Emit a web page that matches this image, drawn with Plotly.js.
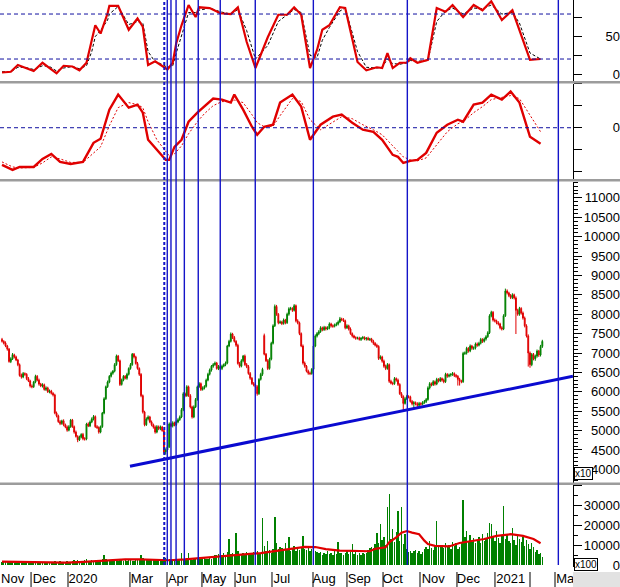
<!DOCTYPE html>
<html><head><meta charset="utf-8">
<script src="https://cdn.plot.ly/plotly-3.0.1.min.js"></script>
<style>html,body{margin:0;padding:0;background:#fff}#chart{width:620px;height:587px}</style>
</head><body><div id="chart"></div>
<script>
// ---- price (x10), one value per trading day, Nov 2019 .. Feb 2021 ----
const openP = [
7350,7300,7260,7180,7100,6780,6850,6950,6900,6820,
6700,6430,6380,6470,6450,6340,6280,6150,6130,6250,
6400,6300,6200,6150,6180,6060,6100,6000,6020,5960,
5920,5450,5380,5230,5180,5250,5150,5090,5010,5100,
5270,5100,4960,4850,4760,4830,4900,4790,4780,5170,
5120,5220,5300,5360,5100,5080,4960,5100,5450,5820,
6130,6250,6400,6480,6530,6700,6920,6800,6190,6300,
6400,6350,6450,6600,6700,6970,6900,6730,6600,6450,
5900,5480,5150,5300,5350,5220,5150,5090,4960,5100,
5050,5090,5000,4450,4500,4580,5170,5120,5200,5150,
5220,5280,5350,5540,5950,5900,6130,5900,5610,5350,
5610,5800,6130,6210,6060,6100,6140,6300,6450,6560,
6660,6700,6740,6600,6650,6600,6660,6700,6740,7180,
7300,7490,7400,7300,7200,6730,6660,6800,6920,6700,
6650,6470,6350,6210,6180,6130,5950,6320,6450,7450,
6970,6800,6600,6840,7250,7700,8200,8000,7780,7800,
7760,7850,7780,8000,8140,8150,8100,8220,7830,7780,
7500,7180,6740,6660,6530,6480,6470,6580,7180,7440,
7500,7550,7650,7600,7660,7620,7650,7750,7700,7690,
7720,7750,7800,7880,7860,7830,7650,7700,7620,7500,
7440,7400,7380,7390,7350,7380,7400,7360,7380,7350,
7360,7300,7250,7200,7170,6860,6900,6790,6660,6600,
6700,6270,6220,6210,6340,6300,6190,5950,5880,5700,
5820,5880,5870,5750,5690,5720,5690,5650,5700,5680,
5720,5750,5800,6100,6210,6180,6260,6200,6320,6280,
6340,6300,6260,6450,6400,6430,6450,6470,6420,6400,
6320,6280,6260,6990,7000,7120,7050,7180,7120,7130,
7230,7200,7250,7350,7300,7360,7420,7520,7960,8050,
7850,7830,7780,7750,7650,7620,7960,8600,8550,8480,
8430,8500,8420,8100,8000,8150,8030,7900,7700,7440,
7000,6700,6960,6850,6920,7050,6950,7170];
const highP = [
7390,7330,7300,7210,7130,6890,7000,6980,6930,6850,
6730,6470,6510,6500,6480,6380,6310,6190,6280,6440,
6430,6340,6230,6220,6210,6140,6130,6060,6050,5990,
5950,5490,5410,5270,5280,5290,5180,5130,5140,5300,
5300,5130,5000,4880,4870,4930,4940,4830,5200,5210,
5260,5340,5400,5390,5140,5110,5130,5480,5860,6160,
6290,6430,6520,6560,6740,6960,6950,6830,6340,6430,
6430,6490,6630,6740,7000,7000,6930,6770,6630,6480,
5930,5510,5340,5390,5380,5260,5180,5130,5140,5130,
5130,5120,5030,4540,4620,5210,5200,5240,5230,5260,
5320,5390,5580,5990,5980,6170,6160,5940,5640,5650,
5840,6160,6250,6240,6140,6170,6340,6490,6600,6690,
6740,6780,6770,6690,6680,6700,6730,6780,7210,7340,
7530,7520,7440,7330,7240,6770,6840,6950,6960,6740,
6690,6510,6380,6250,6210,6170,6350,6490,6620,7500,
7000,6840,6880,7290,7740,8250,8240,8030,7840,7830,
7890,7880,8040,8180,8190,8180,8260,8250,7870,7810,
7530,7220,6780,6690,6570,6520,6610,7220,7480,7540,
7590,7690,7680,7700,7690,7690,7790,7780,7740,7760,
7790,7840,7930,7910,7900,7860,7740,7730,7660,7530,
7470,7430,7420,7420,7410,7440,7430,7410,7420,7390,
7390,7340,7280,7240,7200,6940,6930,6830,6700,6740,
6730,6310,6260,6380,6370,6340,6220,5990,5910,5860,
5920,5910,5900,5790,5760,5750,5730,5740,5730,5760,
5790,5840,6140,6250,6240,6300,6290,6360,6350,6380,
6370,6340,6490,6480,6470,6480,6510,6500,6460,6430,
6360,6310,7030,7040,7160,7150,7220,7210,7170,7270,
7270,7290,7390,7380,7400,7460,7560,8000,8090,8080,
7890,7860,7820,7780,7690,8000,8660,8640,8580,8520,
8540,8530,8460,8140,8190,8180,8070,7940,7740,7480,
7040,7000,7000,6960,7090,7080,7210,7340];
const lowP = [
7270,7220,7150,7060,6750,6740,6820,6860,6790,6660,
6390,6340,6350,6410,6300,6250,6110,6090,6100,6220,
6270,6160,6120,6110,6030,6020,5970,5960,5930,5880,
5420,5340,5200,5140,5150,5110,5060,4970,4980,5070,
5070,4920,4820,4700,4730,4800,4750,4740,4750,5090,
5090,5190,5260,5070,5040,4920,4930,5070,5420,5790,
6100,6220,6370,6440,6500,6670,6770,6150,6160,6270,
6320,6310,6420,6570,6670,6860,6700,6570,6410,5860,
5440,5110,5120,5260,5190,5110,5050,4920,4930,5010,
5010,4970,4400,4380,4460,4550,5090,5080,5110,5120,
5190,5250,5320,5500,5860,5870,5870,5570,5310,5320,
5580,5770,6100,6020,6030,6060,6110,6270,6420,6520,
6620,6670,6570,6560,6570,6560,6630,6660,6710,7150,
7270,7360,7270,7160,6700,6620,6630,6760,6670,6610,
6440,6310,6180,6140,6100,5900,5920,6290,6410,6940,
6770,6560,6570,6810,7220,7670,7960,7740,7750,7720,
7730,7740,7750,7960,8100,8060,8070,7790,7740,7460,
7150,6700,6620,6500,6440,6430,6440,6550,7150,7400,
7460,7520,7560,7570,7580,7590,7610,7660,7650,7660,
7690,7710,7770,7820,7800,7610,7620,7580,7470,7400,
7370,7340,7350,7320,7310,7350,7330,7320,7320,7310,
7270,7210,7170,7130,6820,6830,6750,6620,6560,6570,
6230,6190,6170,6180,6260,6150,5920,5840,5500,5670,
5790,5830,5720,5650,5550,5650,5610,5600,5640,5650,
5690,5710,5770,6060,6140,6150,6160,6170,6240,6250,
6260,6220,6230,6360,6370,6390,6410,6380,6360,6160,
6160,6220,6230,6950,6960,7010,7020,7080,7080,7090,
7160,7170,7220,7260,7270,7320,7390,7490,7920,7810,
7790,7740,7710,7610,7580,7590,7930,8510,8440,8390,
8390,8380,7490,7960,7960,7990,7860,7660,7400,6650,
6620,6660,6810,6800,6880,6900,6910,7130];
const closeP = [
7300,7250,7180,7100,6780,6850,6960,6900,6820,6700,
6420,6380,6470,6450,6340,6280,6150,6130,6250,6400,
6300,6200,6150,6180,6060,6100,6000,6020,5960,5920,
5450,5380,5230,5180,5250,5150,5090,5010,5100,5270,
5100,4960,4850,4760,4830,4900,4790,4780,5170,5120,
5220,5300,5360,5100,5080,4960,5100,5450,5820,6130,
6250,6400,6480,6530,6700,6920,6800,6190,6300,6400,
6350,6450,6600,6700,6970,6900,6730,6600,6450,5900,
5480,5150,5300,5350,5220,5150,5090,4960,5100,5050,
5090,5000,4450,4500,4580,5170,5120,5200,5150,5220,
5280,5350,5540,5950,5900,6130,5900,5610,5350,5610,
5800,6130,6210,6060,6100,6140,6300,6450,6560,6660,
6700,6740,6600,6650,6600,6660,6700,6740,7180,7300,
7490,7400,7300,7200,6730,6660,6800,6920,6700,6650,
6470,6350,6210,6180,6130,5950,6320,6450,6580,6970,
6800,6600,6840,7250,7700,8200,8000,7780,7800,7760,
7850,7780,8000,8140,8150,8100,8220,7830,7780,7500,
7180,6740,6660,6530,6480,6470,6580,7180,7440,7500,
7550,7650,7600,7660,7620,7650,7750,7700,7690,7720,
7750,7800,7880,7860,7830,7650,7700,7620,7500,7440,
7400,7380,7390,7350,7380,7400,7360,7380,7350,7360,
7300,7250,7200,7170,6860,6900,6790,6660,6600,6700,
6270,6220,6210,6340,6300,6190,5950,5880,5700,5820,
5880,5870,5750,5690,5720,5690,5650,5700,5680,5720,
5750,5800,6100,6210,6180,6260,6200,6320,6280,6340,
6300,6260,6450,6400,6430,6450,6470,6420,6400,6320,
6280,6260,6990,7000,7120,7050,7180,7120,7130,7230,
7200,7250,7350,7300,7360,7420,7520,7960,8050,7850,
7830,7780,7750,7650,7620,7960,8600,8550,8480,8430,
8500,8420,8100,8000,8150,8030,7900,7700,7440,7000,
6700,6960,6850,6920,7050,6950,7170,7300];
// ---- volume (x100) ----
const volume = [
1600,1300,1900,1500,2100,1400,1700,1200,1600,2000,
1500,1300,1800,1400,1600,1100,1500,1900,1300,1600,
1200,1500,1000,1400,1600,1300,1100,1500,1400,1200,
2200,1700,1400,1900,1300,1600,1400,2000,1700,1500,
1800,2300,2000,2600,1700,2100,1900,2400,3000,2200,
2000,2500,2100,1800,2400,2700,2100,3200,5000,2900,
2600,2100,2700,2300,2900,2600,2200,3000,2500,2100,
2400,2000,2300,2600,2100,2000,2500,2300,2800,5000,
3600,2800,2500,3000,2400,2700,2600,2400,2800,2300,
2500,2900,4200,3500,2600,3000,2400,2700,2900,2500,
2800,2600,6000,3100,2900,3500,5800,3000,2600,3300,
2800,3400,2900,3200,3800,3300,2800,3100,3600,3000,
4500,5200,4800,5600,4300,5000,5800,4600,6500,13000,
5400,6200,5000,16000,6800,5500,4900,6000,5300,6600,
5800,5200,6000,6400,5500,7000,6200,5600,23500,9500,
6800,12000,7500,6000,8200,24000,11000,7800,9000,8300,
7400,10800,8000,13800,7200,8600,9400,7000,8800,7600,
9000,14600,8200,7400,9600,6800,8000,11400,7200,6400,
5800,6500,5200,6200,5600,7000,5400,6000,5000,6800,
5600,11400,6200,5800,5200,6000,7200,5500,6300,10500,
5700,6400,5100,5800,4900,6200,5400,6000,7500,8600,
9200,8400,10500,16200,11000,20300,12500,14000,9800,29000,
35700,13000,18000,11500,16500,26800,12000,29000,10500,15400,
8000,6500,7200,5800,6800,7500,6200,7000,5600,6400,
7800,9000,8200,12000,8500,7400,10000,22000,9000,8800,
10200,8600,11000,9400,10000,8200,11500,9600,10800,8000,
9200,11000,32600,14000,17000,12000,15000,11500,13500,10800,
12500,14000,11000,15500,12000,13000,16000,21000,20500,14000,
12000,17000,13500,11000,14500,29700,13000,15500,12000,11000,
18700,12500,10000,15000,13000,11500,14000,9500,12500,10500,
8000,11000,9200,6500,7500,5500,6000,4000];
// volume moving average, read at sample days
const volMaDay = [0,10,19,27,36,44,53,61,70,78,87,95,104,112,121,130,138,147,155,164,172,178,184,192,200,209,212,218,220,224,227,230,233,237,240,242,246,254,260,268,274,281,289,296,302,306];
const volMa    = [1700,1600,1300,1100,1200,1500,1900,2500,2800,2800,2600,2400,2800,3400,4000,4400,5300,6000,7000,8100,9100,9000,8000,7200,6900,6900,8100,8900,11400,13800,16200,17000,16200,15400,12200,10500,9600,9300,11000,12200,13000,14600,15400,14600,13000,10900];
// stochastic oscillator (%K solid, %D dashed)
const stochDay = [0,5,9,13,18,23,27,31,35,40,44,48,51,53,56,60,61,66,72,77,80,83,87,90,94,97,99,102,106,110,112,118,124,130,134,139,144,151,157,162,166,170,175,179,182,186,192,195,202,207,213,216,219,222,226,230,232,236,242,247,252,256,262,268,273,278,284,290,294,300,306];
const stochK = [2,3,12,8,4,15,8,1,11,10,5,15,45,65,54,81,91,91,59,74,63,12,17,12,6,15,41,65,92,76,89,88,81,80,89,43,8,49,79,79,89,79,8,32,59,65,89,88,16,5,9,8,28,8,15,15,21,15,19,88,83,92,76,92,85,97,72,85,59,19,20];
const stochD = [3,3,9,9,6,11,10,4,8,10,7,11,30,50,58,72,80,90,66,70,68,30,16,14,9,11,28,52,82,82,85,88,83,80,86,58,20,38,70,79,86,82,25,22,45,62,84,88,30,9,8,9,20,14,13,15,18,17,18,70,84,88,80,88,87,92,80,82,68,28,20];
// MACD and signal
const macdDay = [0,6,10,18,23,28,33,39,46,52,56,61,66,72,77,80,83,88,93,95,98,102,106,111,115,120,125,130,132,137,142,145,149,154,158,165,170,175,181,188,193,199,205,211,216,222,225,228,232,236,241,247,253,259,262,268,273,278,284,289,294,300,306];
const macdLine = [-370,-420,-390,-390,-310,-260,-340,-360,-340,-150,-110,180,330,200,230,150,-120,-220,-320,-320,-190,-120,60,150,210,290,280,250,330,180,10,-70,10,30,250,330,210,-120,30,110,130,50,-20,-40,-120,-270,-290,-350,-330,-320,-250,-50,30,80,60,230,250,330,280,360,250,-90,-160];
const macdSignal = [-340,-390,-400,-395,-350,-290,-310,-345,-345,-250,-190,20,200,250,230,200,60,-120,-240,-280,-260,-180,-60,60,140,220,260,260,275,250,130,50,10,15,120,290,260,80,-20,60,110,90,30,-20,-70,-180,-230,-290,-320,-330,-300,-170,-40,40,60,150,210,280,300,320,290,120,-40];
// support trendline (day, price)
const trendDay = [72.7, 324.4];
const trendPrice = [4080, 6400];
// cycle marker days
const cycleDashed = [92.2];
const cycleLines = [93.9, 96.0, 98.9, 103.6, 111.5, 124.0, 143.9, 176.9, 230.3, 316.1];
// oscillator reference levels
const stochLevels = [20, 80];
const macdLevels = [0];
// time axis
const monthStarts = [16.5, 37.5, 72.7, 93.75, 113.6, 132.4, 153.4, 176.7, 196, 216.5, 237.5, 258.5, 280.1, 300, 314.2];
const monthLabelDay = [6, 24, 46, 79.5, 100, 120.5, 138.6, 159, 183, 203, 222, 245, 265, 289, 320];
const monthLabels = ['Nov','Dec','2020','Mar','Apr','May','Jun','Jul','Aug','Sep','Oct','Nov','Dec','2021','Ma'];

const day = closeP.map((_, i) => i);

const H = 567; // plot height in px (587 - bottom margin)
const py = p => 1 - p / H;
const XDOM = 573 / 620;
const FONT = 'Liberation Sans, Arial, sans-serif';
const RED = '#e00000', GREEN = '#008000', BLUE = '#1414c8';

const R1 = [-9.3, 98.7], R2 = [-510, 440], R3 = [3661, 11422], R4 = [-976, 40000];

const traces = [
  {type:'scatter', mode:'lines', x:stochDay, y:stochD, yaxis:'y', line:{color:'#000', width:1, dash:'3px,2px'}, hoverinfo:'skip'},
  {type:'scatter', mode:'lines', x:stochDay, y:stochK, yaxis:'y', line:{color:RED, width:2.2}, hoverinfo:'skip'},
  {type:'scatter', mode:'lines', x:macdDay, y:macdSignal, yaxis:'y2', line:{color:RED, width:1, dash:'2px,2px'}, hoverinfo:'skip'},
  {type:'scatter', mode:'lines', x:macdDay, y:macdLine, yaxis:'y2', line:{color:RED, width:2.4}, hoverinfo:'skip'},
  {type:'candlestick', x:day, open:openP, high:highP, low:lowP, close:closeP, yaxis:'y3',
   increasing:{line:{color:GREEN, width:1}, fillcolor:GREEN},
   decreasing:{line:{color:RED, width:1}, fillcolor:RED}, hoverinfo:'skip'},
  {type:'scatter', mode:'lines', x:trendDay, y:trendPrice, yaxis:'y3', line:{color:'#0a0ad0', width:3}, hoverinfo:'skip'},
  {type:'bar', x:day, y:volume, yaxis:'y4', width:0.8, marker:{color:GREEN, line:{width:0}}, hoverinfo:'skip'},
  {type:'scatter', mode:'lines', x:volMaDay, y:volMa, yaxis:'y4', line:{color:RED, width:2.2}, hoverinfo:'skip'},
  // anchors for the label-only axes
  {type:'scatter', mode:'markers', x:[0], y:[50], yaxis:'y5', marker:{opacity:0}, hoverinfo:'skip'},
  {type:'scatter', mode:'markers', x:[0], y:[0], yaxis:'y6', marker:{opacity:0}, hoverinfo:'skip'},
  {type:'scatter', mode:'markers', x:[0], y:[5000], yaxis:'y7', marker:{opacity:0}, hoverinfo:'skip'},
  {type:'scatter', mode:'markers', x:[0], y:[0], yaxis:'y8', marker:{opacity:0}, hoverinfo:'skip'}
];

function tickAxis(dom, rng, tick0, dtick, minorD) {
  const a = {domain:dom, range:rng, side:'right', anchor:'x', showline:true, linecolor:'#000', linewidth:1,
    ticks:'outside', ticklen:8, tickcolor:'#000', tick0:tick0, dtick:dtick, showticklabels:false,
    showgrid:false, zeroline:false, fixedrange:true};
  if (minorD) a.minor = {dtick:minorD, ticks:'outside', ticklen:4, tickcolor:'#000', showgrid:false};
  return a;
}
function labelAxis(over, rng, vals) {
  return {overlaying:over, anchor:'free', position:1, side:'left', range:rng, tickmode:'array', tickvals:vals,
    ticktext:vals.map(String), ticks:'', showline:false, showgrid:false, zeroline:false,
    tickfont:{family:FONT, size:13, color:'#000'}, fixedrange:true};
}

const shapes = [];
// panel separators
[[81, 83.5], [179, 181.5], [482.5, 485]].forEach(([a, b]) => {
  shapes.push({type:'rect', xref:'paper', yref:'paper', x0:0, x1:1, y0:py(b), y1:py(a), fillcolor:'#9c9c9c', line:{width:0}, layer:'above'});
});
stochLevels.forEach(v => shapes.push({type:'line', xref:'x domain', yref:'y', x0:0, x1:1, y0:v, y1:v, line:{color:'#1010a0', width:1, dash:'4px,3px'}}));
macdLevels.forEach(v => shapes.push({type:'line', xref:'x domain', yref:'y2', x0:0, x1:1, y0:v, y1:v, line:{color:'#1010a0', width:1, dash:'4px,3px'}}));
cycleDashed.forEach(d => shapes.push({type:'line', xref:'x', yref:'paper', x0:d, x1:d, y0:py(565), y1:1, line:{color:BLUE, width:2, dash:'3px,2px'}, layer:'above'}));
cycleLines.forEach(d => shapes.push({type:'line', xref:'x', yref:'paper', x0:d, x1:d, y0:py(565), y1:1, line:{color:BLUE, width:1.4}, layer:'above'}));
monthStarts.forEach(d => shapes.push({type:'line', xref:'x', yref:'paper', x0:d, x1:d, y0:py(587), y1:py(572), line:{color:'#000', width:1}}));
shapes.push({type:'rect', xref:'paper', yref:'paper', x0:XDOM, x1:1, y0:py(587), y1:py(572), fillcolor:'#e2e2e2', line:{width:0}, layer:'above'});

const layout = {
  width:620, height:587, margin:{l:0, r:0, t:0, b:20, pad:0},
  paper_bgcolor:'#fff', plot_bgcolor:'#fff', showlegend:false, hovermode:false,
  font:{family:FONT, size:13, color:'#000'},
  bargap:0,
  xaxis:{domain:[0, XDOM], range:[-1.14, 324.43], anchor:'y4', tickmode:'array', tickvals:monthLabelDay, ticktext:monthLabels,
    ticks:'', showline:false, showgrid:false, zeroline:false, rangeslider:{visible:false}, ticklabeloverflow:'allow',
    ticklabelstandoff:2, tickfont:{family:FONT, size:13, color:'#000'}, fixedrange:true},
  yaxis: tickAxis([py(81), 1], R1, 0, 25, null),
  yaxis2: tickAxis([py(179), py(83.5)], R2, 0, 220, null),
  yaxis3: tickAxis([py(482.5), py(181.5)], R3, 4000, 500, 100),
  yaxis4: tickAxis([0, py(485)], R4, 0, 10000, 5000),
  yaxis5: labelAxis('y', R1, [0, 50]),
  yaxis6: labelAxis('y2', R2, [0]),
  yaxis7: labelAxis('y3', R3, [4000,4500,5000,5500,6000,6500,7000,7500,8000,8500,9000,9500,10000,10500,11000]),
  yaxis8: labelAxis('y4', R4, [0,10000,20000,30000]),
  shapes: shapes,
  annotations: [
    {xref:'paper', yref:'paper', x:574/620, y:py(480), xanchor:'left', yanchor:'bottom', text:'x10', showarrow:false,
     font:{family:FONT, size:10, color:'#000'}, bgcolor:'#fff', bordercolor:'#000', borderwidth:1, borderpad:0},
    {xref:'paper', yref:'paper', x:574/620, y:py(558), xanchor:'left', yanchor:'top', text:'x100', showarrow:false,
     font:{family:FONT, size:10, color:'#000'}, bgcolor:'#fff', bordercolor:'#000', borderwidth:1, borderpad:0}
  ]
};

Plotly.newPlot('chart', traces, layout, {staticPlot:true, displayModeBar:false});
</script>
</body></html>
